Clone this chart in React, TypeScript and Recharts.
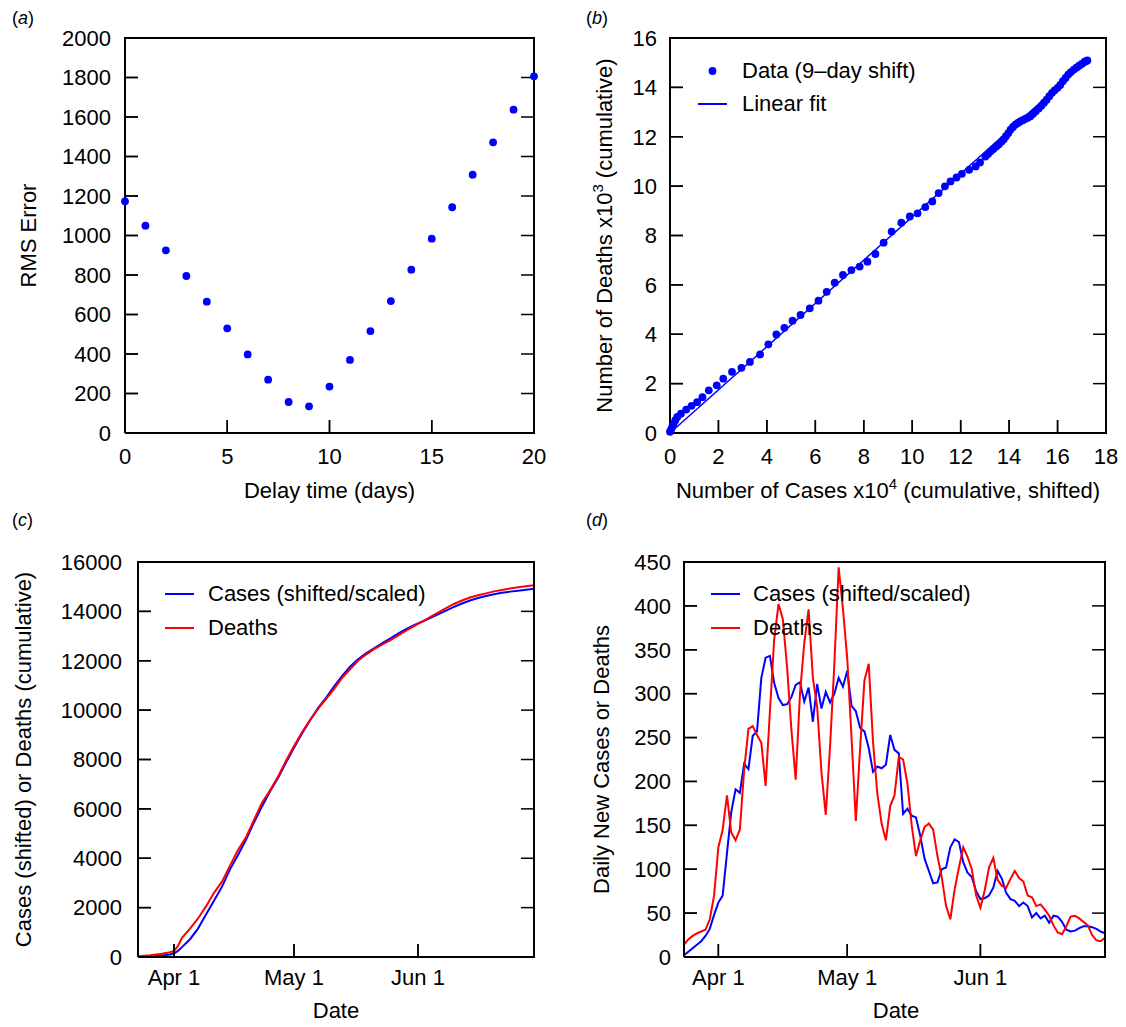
import React from "react";
import { ScatterChart, ComposedChart, Scatter, Line, XAxis, YAxis, Legend } from "recharts";

const FONT = '"Liberation Sans", Arial, Helvetica, sans-serif';
const BLUE = "#0000ff";
const RED = "#ff0000";

// (a) RMS error vs delay
const delayDays = [0, 1, 2, 3, 4, 5, 6, 7, 8, 9, 10, 11, 12, 13, 14, 15, 16, 17, 18, 19, 20];
const rmsError = [1173, 1050, 925, 795, 665, 530, 398, 270, 157, 135, 235, 370, 516, 668, 827, 984, 1143, 1308, 1472, 1637, 1806];
const delayTicks = [0, 5, 10, 15, 20];
const rmsTicks = [0, 200, 400, 600, 800, 1000, 1200, 1400, 1600, 1800, 2000];

// (b) deaths vs shifted cases, x10^4 cases and x10^3 deaths
const bCases = [
  0, 0.05, 0.1, 0.15, 0.22, 0.3, 0.45, 0.67, 0.89, 1.12, 1.34, 1.6, 1.93, 2.2, 2.56, 2.95, 3.3, 3.72,
  4.06, 4.39, 4.72, 5.06, 5.39, 5.77, 6.13, 6.47, 6.8, 7.14, 7.49, 7.83, 8.15, 8.48, 8.82, 9.15, 9.55,
  9.9, 10.22, 10.54, 10.83, 11.09, 11.35, 11.58, 11.83, 12.05, 12.35, 12.62, 12.8, 13.02, 13.13, 13.24,
  13.35, 13.47, 13.58, 13.69, 13.78, 13.87, 13.97, 14.06, 14.16, 14.26, 14.36, 14.46, 14.56, 14.66,
  14.77, 14.88, 14.99, 15.1, 15.22, 15.33, 15.44, 15.55, 15.66, 15.77, 15.88, 16.0, 16.11, 16.22,
  16.33, 16.44, 16.55, 16.67, 16.78, 16.89, 17.0, 17.11, 17.17, 17.23,
];
const bDeaths = [
  0.05, 0.15, 0.28, 0.38, 0.52, 0.65, 0.78, 0.95, 1.1, 1.25, 1.45, 1.73, 1.93, 2.2, 2.48, 2.64, 2.88, 3.18,
  3.59, 3.99, 4.26, 4.55, 4.78, 5.05, 5.36, 5.72, 6.09, 6.4, 6.6, 6.74, 6.94, 7.25, 7.71, 8.16, 8.52,
  8.77, 8.9, 9.15, 9.38, 9.72, 9.99, 10.19, 10.35, 10.5, 10.66, 10.8, 10.96, 11.2, 11.3, 11.41,
  11.5, 11.61, 11.7, 11.81, 11.9, 12.02, 12.15, 12.29, 12.4, 12.49, 12.56, 12.62, 12.67, 12.72,
  12.77, 12.83, 12.93, 13.03, 13.14, 13.26, 13.38, 13.5, 13.64, 13.78, 13.88, 13.98, 14.1, 14.25,
  14.38, 14.52, 14.62, 14.72, 14.8, 14.88, 14.95, 15.03, 15.06, 15.09,
];
const fitCases = [0, 17.25];
const fitDeaths = [0, 15.1];
const bXTicks = [0, 2, 4, 6, 8, 10, 12, 14, 16, 18];
const bYTicks = [0, 2, 4, 6, 8, 10, 12, 14, 16];

// dates as days from Apr 1
const dateTicks = [0, 30, 61];
const dateLabels = ["Apr 1", "May 1", "Jun 1"];

// (c) cumulative
const cDays = [-9, -6, -3, -1, 0, 1, 2, 4, 6, 8, 10, 12, 14, 16, 18, 20, 22, 24, 26, 28, 30, 32, 34, 36, 38, 40,
  42, 44, 46, 48, 50, 52, 54, 56, 58, 60, 62, 64, 66, 68, 70, 72, 74, 76, 78, 80, 82, 84, 86, 88, 90];
const cCases = [10, 25, 60, 100, 150, 250, 400, 720, 1150, 1720, 2280, 2850, 3550, 4130, 4750, 5450, 6100, 6700,
  7250, 7880, 8480, 9050, 9580, 10080, 10500, 10950, 11380, 11760, 12060, 12300, 12500, 12700, 12900, 13100,
  13280, 13440, 13580, 13730, 13880, 14030, 14180, 14320, 14440, 14540, 14620, 14690, 14750, 14800, 14840,
  14880, 14920];
const cDeaths = [30, 70, 130, 190, 250, 450, 780, 1150, 1560, 2050, 2600, 3050, 3700, 4330, 4850, 5550, 6250, 6750,
  7300, 7950, 8550, 9100, 9600, 10050, 10450, 10850, 11300, 11650, 12000, 12250, 12470, 12650, 12830, 13020,
  13220, 13400, 13580, 13770, 13950, 14130, 14300, 14440, 14560, 14650, 14730, 14810, 14870, 14930, 14980,
  15020, 15060];
const cYTicks = [0, 2000, 4000, 6000, 8000, 10000, 12000, 14000, 16000];

// (d) daily
const dDays = [
  -8, -7, -6, -5, -4, -3, -2, -1, 0, 1,
  2, 3, 4, 5, 6, 7, 8, 9, 10, 11,
  12, 13, 14, 15, 16, 17, 18, 19, 20, 21,
  22, 23, 24, 25, 26, 27, 28, 29, 30, 31,
  32, 33, 34, 35, 36, 37, 38, 39, 40, 41,
  42, 43, 44, 45, 46, 47, 48, 49, 50, 51,
  52, 53, 54, 55, 56, 57, 58, 59, 60, 61,
  62, 63, 64, 65, 66, 67, 68, 69, 70, 71,
  72, 73, 74, 75, 76, 77, 78, 79, 80, 81,
  82, 83, 84, 85, 86, 87, 88, 89, 90,
];
const dCases = [
  2, 6, 10, 14, 18, 24, 32, 48, 62, 70,
  118, 165, 191, 187, 220, 214, 252, 257, 318, 341,
  343, 312, 295, 287, 288, 296, 310, 313, 291, 307,
  268, 311, 283, 302, 290, 300, 318, 308, 326, 286,
  280, 261, 257, 238, 211, 217, 215, 219, 253, 236,
  232, 163, 169, 161, 159, 138, 112, 98, 84, 85,
  100, 102, 125, 134, 131, 108, 96, 91, 75, 66,
  67, 70, 79, 98, 89, 73, 66, 64, 58, 62,
  58, 45, 50, 44, 47, 39, 47, 46, 40, 31,
  29, 30, 33, 35, 35, 34, 32, 29, 27,
];
const dDeaths = [
  14, 20, 24, 27, 29, 31, 43, 70, 125, 145,
  184, 142, 133, 145, 213, 260, 263, 253, 244, 195,
  280, 362, 402, 385, 330, 259, 202, 300, 358, 396,
  318, 285, 210, 162, 240, 334, 444, 397, 340, 250,
  155, 238, 315, 334, 245, 186, 152, 133, 172, 184,
  228, 225, 198, 150, 115, 133, 148, 152, 145, 115,
  91, 58, 43, 77, 102, 125, 114, 100, 70, 56,
  76, 102, 113, 88, 81, 79, 89, 98, 90, 86,
  70, 68, 58, 60, 54, 47, 36, 28, 26, 35,
  46, 47, 44, 40, 36, 25, 19, 18, 22,
];
const dYTicks = [0, 50, 100, 150, 200, 250, 300, 350, 400, 450];

const rmsRows = delayDays.map((x, i) => ({ x, y: rmsError[i] }));
const bRows = bCases.map((x, i) => ({ x, y: bDeaths[i] }));
const fitRows = fitCases.map((x, i) => ({ x, y: fitDeaths[i] }));
const cRows = cDays.map((day, i) => ({ day, cases: cCases[i], deaths: cDeaths[i] }));
const dRows = dDays.map((day, i) => ({ day, cases: dCases[i], deaths: dDeaths[i] }));

// plot frame (box) and inward ticks on left, right and bottom, placed through the chart scales
const frameRows = (k: string, x: [number, number], y: [number, number]) =>
  [[x[0], y[0]], [x[1], y[0]], [x[1], y[1]], [x[0], y[1]], [x[0], y[0]]].map(([a, b]) => ({ [k]: a, y: b }));
const tickRows = (k: string, x: [number, number], y: [number, number], xt: number[], yt: number[]) => [
  ...yt.map((v) => ({ [k]: x[0], y: v, side: "l" })),
  ...yt.map((v) => ({ [k]: x[1], y: v, side: "r" })),
  ...xt.map((v) => ({ [k]: v, y: y[0], side: "b" })),
];
const tickMark = (p: any) => {
  const s = p.payload?.side;
  const dx = s === "l" ? 13 : s === "r" ? -13 : 0;
  const dy = s === "b" ? -13 : 0;
  return <line x1={p.cx} y1={p.cy} x2={p.cx + dx} y2={p.cy + dy} stroke="#000" strokeWidth={1.5} />;
};
const noShape = () => <g />;
const frameLine = { stroke: "#000", strokeWidth: 2 };

const tickFont = { fill: "#000", fontSize: 22, fontFamily: FONT };
const axisLine = { stroke: "#000", strokeWidth: 2 };
const tickLine = { stroke: "#000", strokeWidth: 1.5 };
const dateFmt = (v: number) => dateLabels[dateTicks.indexOf(v)] ?? "";

const dot = (p: any) => <circle cx={p.cx} cy={p.cy} r={3.9} fill={BLUE} />;

// axis titles: x,y is the text baseline centre (vertical ones get rotated)
const hTitle = (x: number, y: number, body: React.ReactNode) => () => (
  <text x={x} y={y} textAnchor="middle" fill="#000" fontSize={22} fontFamily={FONT}>{body}</text>
);
const vTitle = (x: number, y: number, body: React.ReactNode) => () => (
  <text x={x} y={y} transform={`rotate(-90 ${x} ${y})`} textAnchor="middle" fill="#000" fontSize={22} fontFamily={FONT}>{body}</text>
);

type Item = { label: string; color: string; kind: "line" | "dot" };

function LegendBox({ items, gap, step }: { items: Item[]; gap: number; step: number }) {
  return (
    <div style={{ position: "relative", fontFamily: FONT, fontSize: 22, color: "#000" }}>
      {items.map((it, i) => (
        <div key={it.label} style={{ position: "absolute", left: 0, top: i * step, height: step, display: "flex", alignItems: "center", whiteSpace: "nowrap" }}>
          <svg width={29} height={10} style={{ display: "block" }}>
            {it.kind === "dot"
              ? <circle cx={14.5} cy={5} r={3.9} fill={it.color} />
              : <line x1={0} x2={29} y1={5} y2={5} stroke={it.color} strokeWidth={2} />}
          </svg>
          <span style={{ marginLeft: gap, lineHeight: `${step}px` }}>{it.label}</span>
        </div>
      ))}
    </div>
  );
}

const lineItems: Item[] = [
  { label: "Cases (shifted/scaled)", color: BLUE, kind: "line" },
  { label: "Deaths", color: RED, kind: "line" },
];
const bItems: Item[] = [
  { label: "Data (9\u2013day shift)", color: BLUE, kind: "dot" },
  { label: "Linear fit", color: BLUE, kind: "line" },
];

const panelLabel = (left: number, top: number, letter: string) => (
  <div style={{ position: "absolute", left, top, fontFamily: FONT, fontSize: 18, lineHeight: "18px", color: "#000" }}>
    (<i>{letter}</i>)
  </div>
);

const aX: [number, number] = [0, 20];
const aY: [number, number] = [0, 2000];
const bX: [number, number] = [0, 18];
const bY: [number, number] = [0, 16];
const cX: [number, number] = [-9, 90];
const cY: [number, number] = [0, 16000];
const dX: [number, number] = [-8, 90];
const dY: [number, number] = [0, 450];

export default function App() {
  return (
    <div>
      {/* tiny empty chart mounted first; the first chart on the page kept losing its axis layer */}
      <div style={{ position: "absolute", left: 0, top: 0, width: 4, height: 4, overflow: "hidden" }}>
        <ScatterChart width={4} height={4} margin={{ top: 0, right: 0, bottom: 0, left: 0 }}>
          <XAxis type="number" dataKey="x" domain={[0, 1]} hide />
          <YAxis type="number" dataKey="y" domain={[0, 1]} hide />
          <Scatter data={[]} shape={noShape} isAnimationActive={false} />
        </ScatterChart>
      </div>

      {panelLabel(12, 9, "a")}
      {panelLabel(586, 9, "b")}
      {panelLabel(12, 511, "c")}
      {panelLabel(586, 511, "d")}

      <div style={{ position: "absolute", left: 563, top: 0 }}>
        <ScatterChart width={563} height={510} margin={{ top: 38, right: 20, bottom: 0, left: 0 }}>
          <XAxis type="number" dataKey="x" domain={bX} ticks={bXTicks} interval={0} height={77}
            axisLine={axisLine} tickLine={tickLine} tickSize={-13} tickMargin={28} tick={tickFont}
            label={hTitle(325, 497.5, <>
              <tspan>Number of Cases x10</tspan>
              <tspan dy={-9} fontSize={15}>4</tspan>
              <tspan dy={9}> (cumulative, shifted)</tspan>
            </>)} />
          <YAxis type="number" dataKey="y" domain={bY} ticks={bYTicks} interval={0} width={107}
            axisLine={axisLine} tickLine={tickLine} tickSize={-13} tickMargin={26} tick={tickFont}
            label={vTitle(49.4, 235.5, <>
              <tspan>Number of Deaths x10</tspan>
              <tspan dy={-9} fontSize={15}>3</tspan>
              <tspan dy={9}> (cumulative)</tspan>
            </>)} />
          <Scatter data={frameRows("x", bX, bY)} line={frameLine} shape={noShape} isAnimationActive={false} />
          <Scatter data={tickRows("x", bX, bY, bXTicks, bYTicks)} shape={tickMark} isAnimationActive={false} />
          <Scatter data={fitRows} line={{ stroke: BLUE, strokeWidth: 1.5 }} shape={noShape} isAnimationActive={false} />
          <Scatter data={bRows} fill={BLUE} shape={dot} isAnimationActive={false} />
          <Legend layout="vertical" align="center" verticalAlign="middle"
            wrapperStyle={{ left: 135, top: 54, width: 320, height: 70 }}
            content={() => <LegendBox items={bItems} gap={15} step={33} />} />
        </ScatterChart>
      </div>

      <div style={{ position: "absolute", left: 0, top: 500 }}>
        <ComposedChart width={563} height={527} data={cRows} margin={{ top: 62, right: 29, bottom: 0, left: 0 }}>
          <XAxis type="number" dataKey="day" domain={cX} ticks={dateTicks} interval={0} height={70}
            tickFormatter={dateFmt} axisLine={axisLine} tickLine={tickLine} tickSize={-13} tickMargin={25} tick={tickFont}
            label={hTitle(336, 517.5, "Date")} />
          <YAxis type="number" domain={cY} ticks={cYTicks} interval={0} width={138}
            axisLine={axisLine} tickLine={tickLine} tickSize={-13} tickMargin={29} tick={tickFont}
            label={vTitle(31.4, 259.5, "Cases (shifted) or Deaths (cumulative)")} />
          <Line dataKey="cases" stroke={BLUE} strokeWidth={2} dot={false} isAnimationActive={false} />
          <Line dataKey="deaths" stroke={RED} strokeWidth={2} dot={false} isAnimationActive={false} />
          <Scatter data={frameRows("day", cX, cY)} dataKey="y" line={frameLine} shape={noShape} isAnimationActive={false} />
          <Scatter data={tickRows("day", cX, cY, dateTicks, cYTicks)} dataKey="y" shape={tickMark} isAnimationActive={false} />
          <Legend layout="vertical" align="center" verticalAlign="middle"
            wrapperStyle={{ left: 165, top: 77, width: 320, height: 70 }}
            content={() => <LegendBox items={lineItems} gap={14} step={34} />} />
        </ComposedChart>
      </div>

      <div style={{ position: "absolute", left: 563, top: 500 }}>
        <ComposedChart width={563} height={527} data={dRows} margin={{ top: 62, right: 21, bottom: 0, left: 0 }}>
          <XAxis type="number" dataKey="day" domain={dX} ticks={dateTicks} interval={0} height={70}
            tickFormatter={dateFmt} axisLine={axisLine} tickLine={tickLine} tickSize={-13} tickMargin={25} tick={tickFont}
            label={hTitle(333, 517.5, "Date")} />
          <YAxis type="number" domain={dY} ticks={dYTicks} interval={0} width={121}
            axisLine={axisLine} tickLine={tickLine} tickSize={-13} tickMargin={26} tick={tickFont}
            label={vTitle(45.9, 259.5, "Daily New Cases or Deaths")} />
          <Line dataKey="cases" stroke={BLUE} strokeWidth={2} dot={false} isAnimationActive={false} />
          <Line dataKey="deaths" stroke={RED} strokeWidth={2} dot={false} isAnimationActive={false} />
          <Scatter data={frameRows("day", dX, dY)} dataKey="y" line={frameLine} shape={noShape} isAnimationActive={false} />
          <Scatter data={tickRows("day", dX, dY, dateTicks, dYTicks)} dataKey="y" shape={tickMark} isAnimationActive={false} />
          <Legend layout="vertical" align="center" verticalAlign="middle"
            wrapperStyle={{ left: 148, top: 77, width: 320, height: 70 }}
            content={() => <LegendBox items={lineItems} gap={13} step={34} />} />
        </ComposedChart>
      </div>

      <div style={{ position: "absolute", left: 0, top: 0 }}>
        <ScatterChart width={563} height={510} margin={{ top: 38, right: 29, bottom: 0, left: 0 }}>
          <XAxis type="number" dataKey="x" domain={aX} ticks={delayTicks} interval={0} height={77}
            axisLine={axisLine} tickLine={tickLine} tickSize={-13} tickMargin={28} tick={tickFont}
            label={hTitle(329.5, 497.5, "Delay time (days)")} />
          <YAxis type="number" dataKey="y" domain={aY} ticks={rmsTicks} interval={0} width={125}
            axisLine={axisLine} tickLine={tickLine} tickSize={-13} tickMargin={27} tick={tickFont}
            label={vTitle(36, 235.5, "RMS Error")} />
          <Scatter data={frameRows("x", aX, aY)} line={frameLine} shape={noShape} isAnimationActive={false} />
          <Scatter data={tickRows("x", aX, aY, delayTicks, rmsTicks)} shape={tickMark} isAnimationActive={false} />
          <Scatter data={rmsRows} fill={BLUE} shape={dot} isAnimationActive={false} />
        </ScatterChart>
      </div>
    </div>
  );
}
